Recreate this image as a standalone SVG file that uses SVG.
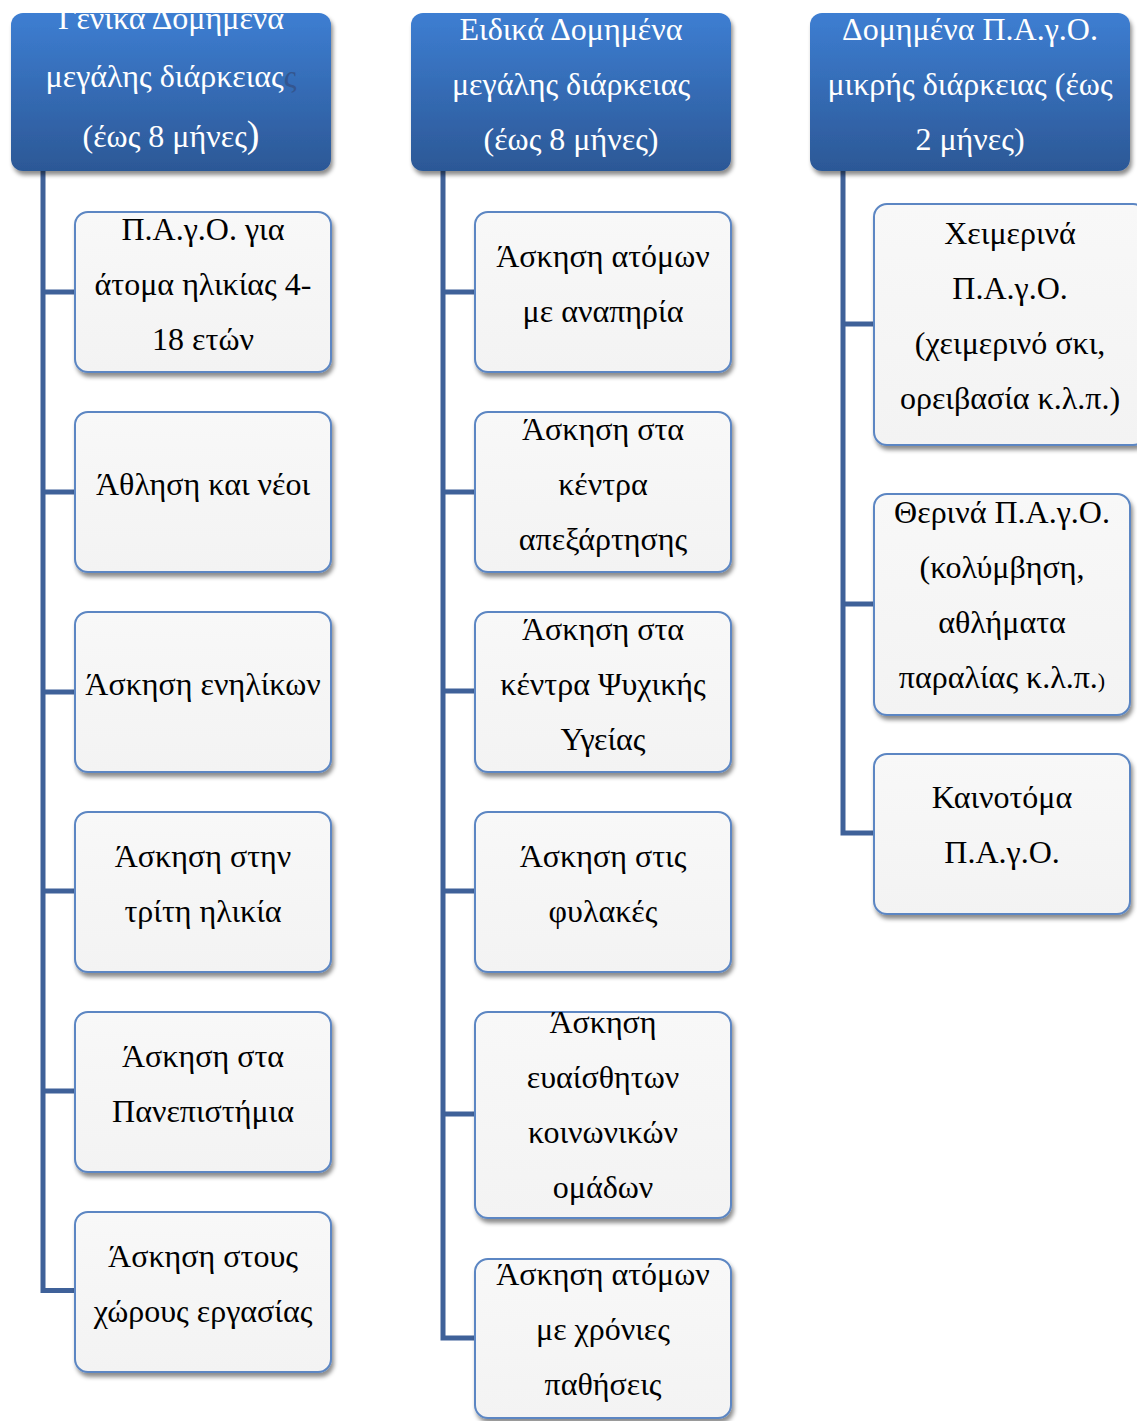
<svg xmlns="http://www.w3.org/2000/svg" width="1137" height="1421" viewBox="0 0 1137 1421">
<defs>
<linearGradient id="hg" x1="0" y1="0" x2="0" y2="1">
<stop offset="0" stop-color="#3d7ed2"/>
<stop offset="1" stop-color="#2c5896"/>
</linearGradient>
<linearGradient id="cg" x1="0" y1="0" x2="0" y2="1">
<stop offset="0" stop-color="#f8f8f8"/>
<stop offset="1" stop-color="#f3f3f3"/>
</linearGradient>
<filter id="sh" x="-10%" y="-10%" width="125%" height="130%">
<feDropShadow dx="2" dy="4" stdDeviation="2.2" flood-color="#000" flood-opacity="0.45"/>
</filter>
</defs>
<style>
.hd{fill:url(#hg);filter:url(#sh)}
.ch{fill:url(#cg);stroke:#5b86c3;stroke-width:2;filter:url(#sh)}
.ht{font-family:"Liberation Serif","DejaVu Serif",serif;font-size:32px;fill:#ffffff;text-anchor:middle}
.ct{font-family:"Liberation Serif","DejaVu Serif",serif;font-size:32px;fill:#000000;text-anchor:middle}
.cn{fill:none;stroke:#3f6199;stroke-width:5;stroke-linejoin:miter}
</style>
<rect width="1137" height="1421" fill="#ffffff"/>
<g id="connectors">
<path class="cn" d="M43,165 V1290.5 H76 M43,292 H76 M43,492 H76 M43,692 H76 M43,891 H76 M43,1091 H76"/>
<path class="cn" d="M443,165 V1338 H476 M443,292 H476 M443,492 H476 M443,691 H476 M443,891 H476 M443,1114 H476"/>
<path class="cn" d="M843,165 V833 H875 M843,324 H875 M843,604 H875"/>
</g>
<g id="h1">
<rect class="hd" x="11" y="13" width="320" height="158" rx="12"/>
<text class="ht" x="171" y="29">Γενικά Δομημένα</text>
<text class="ht" x="171" y="87">μεγάλης διάρκειας<tspan fill="#34568f">ς</tspan></text>
<text class="ht" x="171" y="147">(έως 8 μήνες<tspan font-size="38">)</tspan></text>
</g>
<g id="h2">
<rect class="hd" x="411" y="13" width="320" height="158" rx="12"/>
<text class="ht" x="571" y="40">Ειδικά Δομημένα</text>
<text class="ht" x="571" y="95">μεγάλης διάρκειας</text>
<text class="ht" x="571" y="150">(έως 8 μήνες)</text>
</g>
<g id="h3">
<rect class="hd" x="810" y="13" width="320" height="158" rx="12"/>
<text class="ht" x="970" y="40">Δομημένα Π.Α.γ.Ο.</text>
<text class="ht" x="970" y="95">μικρής διάρκειας (έως</text>
<text class="ht" x="970" y="150">2 μήνες)</text>
</g>
<g id="c1a">
<rect class="ch" x="75" y="212" width="256" height="160" rx="13"/>
<text class="ct" x="203" y="240">Π.Α.γ.Ο. για</text>
<text class="ct" x="203" y="295">άτομα ηλικίας 4-</text>
<text class="ct" x="203" y="350">18 ετών</text>
</g>
<g id="c1b">
<rect class="ch" x="75" y="412" width="256" height="160" rx="13"/>
<text class="ct" x="203" y="495">Άθληση και νέοι</text>
</g>
<g id="c1c">
<rect class="ch" x="75" y="612" width="256" height="160" rx="13"/>
<text class="ct" x="203" y="695">Άσκηση ενηλίκων</text>
</g>
<g id="c1d">
<rect class="ch" x="75" y="812" width="256" height="160" rx="13"/>
<text class="ct" x="203" y="867">Άσκηση στην</text>
<text class="ct" x="203" y="922">τρίτη ηλικία</text>
</g>
<g id="c1e">
<rect class="ch" x="75" y="1012" width="256" height="160" rx="13"/>
<text class="ct" x="203" y="1067">Άσκηση στα</text>
<text class="ct" x="203" y="1122">Πανεπιστήμια</text>
</g>
<g id="c1f">
<rect class="ch" x="75" y="1212" width="256" height="160" rx="13"/>
<text class="ct" x="203" y="1267">Άσκηση στους</text>
<text class="ct" x="203" y="1322">χώρους εργασίας</text>
</g>
<g id="c2a">
<rect class="ch" x="475" y="212" width="256" height="160" rx="13"/>
<text class="ct" x="603" y="267">Άσκηση ατόμων</text>
<text class="ct" x="603" y="322">με αναπηρία</text>
</g>
<g id="c2b">
<rect class="ch" x="475" y="412" width="256" height="160" rx="13"/>
<text class="ct" x="603" y="440">Άσκηση στα</text>
<text class="ct" x="603" y="495">κέντρα</text>
<text class="ct" x="603" y="550">απεξάρτησης</text>
</g>
<g id="c2c">
<rect class="ch" x="475" y="612" width="256" height="160" rx="13"/>
<text class="ct" x="603" y="640">Άσκηση στα</text>
<text class="ct" x="603" y="695">κέντρα Ψυχικής</text>
<text class="ct" x="603" y="750">Υγείας</text>
</g>
<g id="c2d">
<rect class="ch" x="475" y="812" width="256" height="160" rx="13"/>
<text class="ct" x="603" y="867">Άσκηση στις</text>
<text class="ct" x="603" y="922">φυλακές</text>
</g>
<g id="c2e">
<rect class="ch" x="475" y="1012" width="256" height="206" rx="13"/>
<text class="ct" x="603" y="1033">Άσκηση</text>
<text class="ct" x="603" y="1088">ευαίσθητων</text>
<text class="ct" x="603" y="1143">κοινωνικών</text>
<text class="ct" x="603" y="1198">ομάδων</text>
</g>
<g id="c2f">
<rect class="ch" x="475" y="1259" width="256" height="159" rx="13"/>
<text class="ct" x="603" y="1285">Άσκηση ατόμων</text>
<text class="ct" x="603" y="1340">με χρόνιες</text>
<text class="ct" x="603" y="1395">παθήσεις</text>
</g>
<g id="c3a">
<rect class="ch" x="874" y="204" width="272" height="241" rx="13"/>
<text class="ct" x="1010" y="244">Χειμερινά</text>
<text class="ct" x="1010" y="299">Π.Α.γ.Ο.</text>
<text class="ct" x="1010" y="354">(χειμερινό σκι,</text>
<text class="ct" x="1010" y="409">ορειβασία κ.λ.π.)</text>
</g>
<g id="c3b">
<rect class="ch" x="874" y="494" width="256" height="221" rx="13"/>
<text class="ct" x="1002" y="523">Θερινά Π.Α.γ.Ο.</text>
<text class="ct" x="1002" y="578">(κολύμβηση,</text>
<text class="ct" x="1002" y="633">αθλήματα</text>
<text class="ct" x="1002" y="688">παραλίας κ.λ.π.<tspan font-size="22">)</tspan></text>
</g>
<g id="c3c">
<rect class="ch" x="874" y="754" width="256" height="160" rx="13"/>
<text class="ct" x="1002" y="808">Καινοτόμα</text>
<text class="ct" x="1002" y="863">Π.Α.γ.Ο.</text>
</g>
</svg>
